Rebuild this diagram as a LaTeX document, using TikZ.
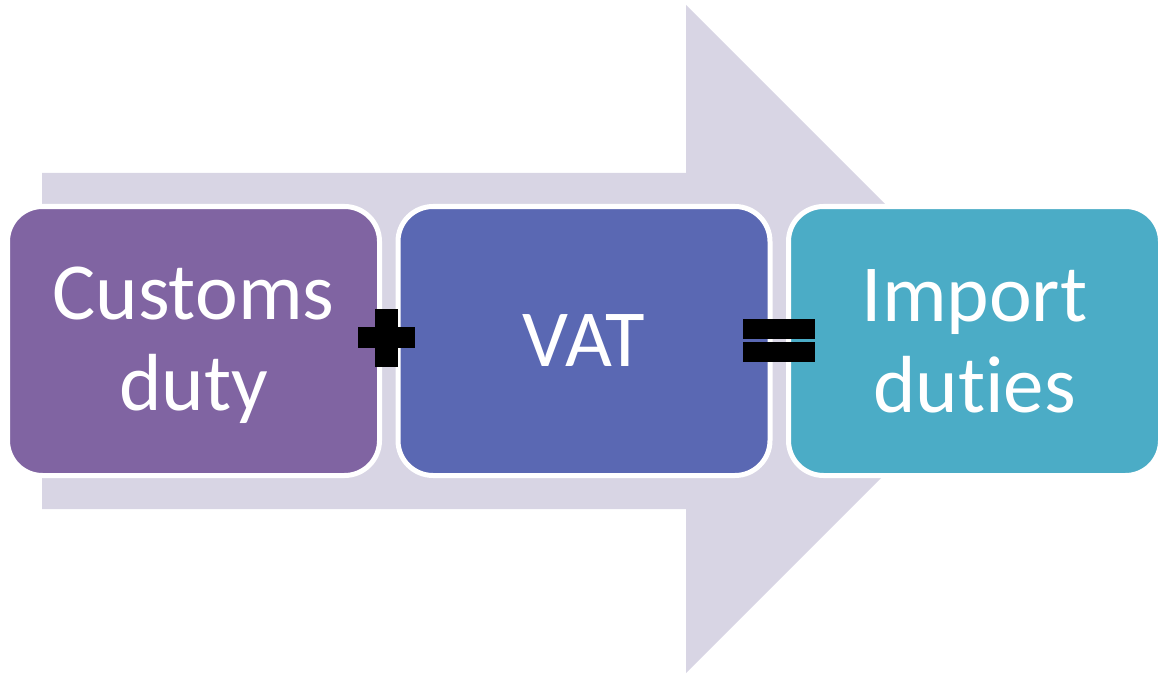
\documentclass[tikz,border=0pt]{standalone}
\usepackage{fontspec}
\setmainfont{Carlito}[Ligatures=NoCommon]
\definecolor{arrowgray}{HTML}{D8D5E4}
\definecolor{cpurple}{HTML}{8064A2}
\definecolor{cblue}{HTML}{5A68B3}
\definecolor{ccyan}{HTML}{4BACC6}
\tikzset{
  box/.style={rounded corners=35pt, draw=white, line width=5pt,
    minimum width=372pt, minimum height=269pt, inner sep=0pt},
  boxtext/.style={inner sep=0pt, text=white, align=center,
    font=\fontsize{81}{91}\selectfont},
  sign/.style={fill=black}
}
\begin{document}
\begin{tikzpicture}[x=1pt,y=-1pt]
\useasboundingbox (0,0) rectangle (1160,674);
\fill[arrowgray] (42,173) -- (686,173) -- (686,5) -- (1020,339) -- (686,673) -- (686,509) -- (42,509) -- cycle;
\node[box, fill=cpurple] (customs) at (193.5,341) {};
\node[box, fill=cblue] (vat) at (584,341) {};
\node[box, fill=ccyan] (import) at (974.5,341) {};
\node[boxtext, yshift=-4pt] (customstext) at (customs.center) {Customs\\duty};
\node[boxtext] (vattext) at (vat.center) {VAT};
\node[boxtext] (importtext) at (import.center) {Import\\duties};
\fill[sign] (358,327) rectangle (415,348);
\fill[sign] (375,309) rectangle (398,367);
\fill[sign] (743,319) rectangle (815,339);
\fill[sign] (743,342) rectangle (815,362);
\end{tikzpicture}
\end{document}
